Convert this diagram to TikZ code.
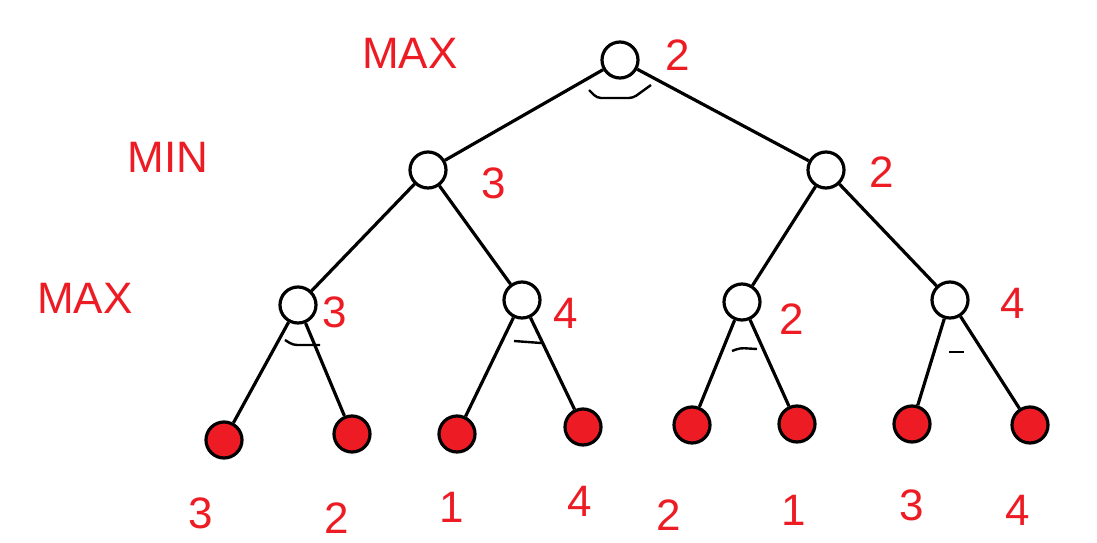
\documentclass[tikz,border=0pt]{standalone}
\usepackage{fontspec}
\setmainfont{Liberation Sans}
\definecolor{myred}{HTML}{ED1C24}
\begin{document}
\begin{tikzpicture}[x=1pt,y=-1pt,
  inner/.style={circle,draw=black,fill=white,line width=3.2pt,minimum size=36pt,inner sep=0pt},
  leaf/.style={circle,draw=black,fill=myred,line width=3.2pt,minimum size=36pt,inner sep=0pt},
  lab/.style={text=myred,font=\fontsize{44}{44}\selectfont,inner sep=0pt},
  edge/.style={line width=3.2pt},
  andmark/.style={line width=2.4pt,rounded corners=4pt}]
\useasboundingbox (0,0) rectangle (1097,543);
% inner nodes
\node[inner] (r) at (620,60) {};
\node[inner] (a) at (428,170) {};
\node[inner] (b) at (826,170) {};
\node[inner] (aa) at (298,305) {};
\node[inner] (ab) at (522,300) {};
\node[inner] (ba) at (742,302) {};
\node[inner] (bb) at (950,300) {};
% leaves
\node[leaf] (l1) at (224,440) {};
\node[leaf] (l2) at (352,434) {};
\node[leaf] (l3) at (457,434) {};
\node[leaf] (l4) at (583,427) {};
\node[leaf] (l5) at (692,425) {};
\node[leaf] (l6) at (797,424) {};
\node[leaf] (l7) at (912,424) {};
\node[leaf] (l8) at (1030,425) {};
% edges
\draw[edge] (r) -- (a);
\draw[edge] (r) -- (b);
\draw[edge] (a) -- (aa);
\draw[edge] (a) -- (ab);
\draw[edge] (b) -- (ba);
\draw[edge] (b) -- (bb);
\draw[edge] (aa) -- (l1);
\draw[edge] (aa) -- (l2);
\draw[edge] (ab) -- (l3);
\draw[edge] (ab) -- (l4);
\draw[edge] (ba) -- (l5);
\draw[edge] (ba) -- (l6);
\draw[edge] (bb) -- (l7);
\draw[edge] (bb) -- (l8);
% and-marks
\draw[andmark] (589,90) -- (597,98) -- (633,98) -- (651,85);
\draw[andmark] (285,340) -- (293,345) -- (320,345);
\draw[andmark] (514,341) -- (541,343);
\draw[andmark] (732,351) -- (740,348) -- (757,349);
\draw[andmark] (949,352) -- (964,352);
% level labels
\node[lab] (m1) at (410,53) {MAX};
\node[lab] (m2) at (168,157) {MIN};
\node[lab] (m3) at (85,298) {MAX};
% values
\node[lab] (v0) at (678,55) {2};
\node[lab] (v1) at (494,183) {3};
\node[lab] (v2) at (882,172) {2};
\node[lab] (v3) at (335,312) {3};
\node[lab] (v4) at (566,313) {4};
\node[lab] (v5) at (792,319) {2};
\node[lab] (v6) at (1013,303) {4};
\node[lab] (w1) at (201,513) {3};
\node[lab] (w2) at (337,518) {2};
\node[lab] (w3) at (452,507) {1};
\node[lab] (w4) at (580,501) {4};
\node[lab] (w5) at (669,515) {2};
\node[lab] (w6) at (794,510) {1};
\node[lab] (w7) at (912,505) {3};
\node[lab] (w8) at (1018,510) {4};
\end{tikzpicture}
\end{document}
